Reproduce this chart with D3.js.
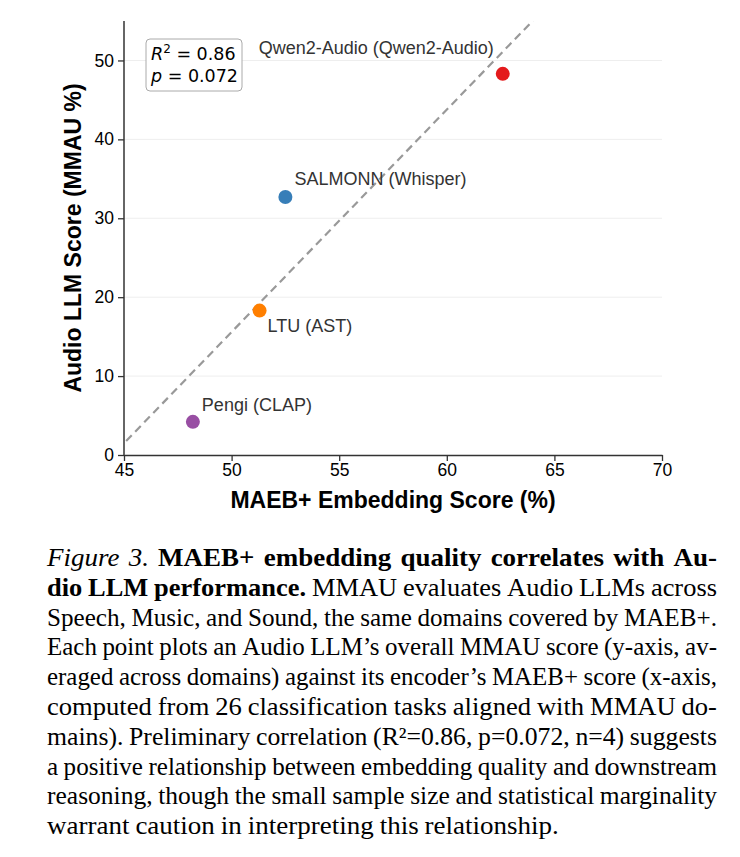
<!DOCTYPE html>
<html>
<head>
<meta charset="utf-8">
<script src="https://cdn.jsdelivr.net/npm/d3@7"></script>
<style>
	body { margin: 0; background: #fff; }
</style>
</head>
<body>
<div id="chart"></div>
<script>
// data
const MODELS = ['Qwen2-Audio (Qwen2-Audio)', 'SALMONN (Whisper)', 'LTU (AST)', 'Pengi (CLAP)'];
const MAEB_SCORES = [62.6, 52.5, 51.3, 48.2];
const MMAU_SCORES = [48.3, 32.7, 18.3, 4.2];
const X_TICKS = [45, 50, 55, 60, 65, 70];
const Y_TICKS = [0, 10, 20, 30, 40, 50];
const R2_TEXT = '0.86';
const P_TEXT = '0.072';

const POINT_COLORS = ['#e41a1c', '#377eb8', '#ff7f00', '#984ea3'];
// label offsets from the dot (dx, dy, anchor)
const LABEL_OFFSETS = [[-9, -20, 'end'], [9, -12, 'start'], [8, 21, 'start'], [9, -11, 'start']];

const CAPTION = [
	[['i', 'Figure 3.'], ['b', 'MAEB+ embedding quality correlates with Au-']],
	[['b', 'dio LLM performance.'], ['n', 'MMAU evaluates Audio LLMs across']],
	[['n', 'Speech, Music, and Sound, the same domains covered by MAEB+.']],
	[['n', 'Each point plots an Audio LLM\u2019s overall MMAU score (y-axis, av-']],
	[['n', 'eraged across domains) against its encoder\u2019s MAEB+ score (x-axis,']],
	[['n', 'computed from 26 classification tasks aligned with MMAU do-']],
	[['n', 'mains). Preliminary correlation (R\u00b2=0.86, p=0.072, n=4) suggests']],
	[['n', 'a positive relationship between embedding quality and downstream']],
	[['n', 'reasoning, though the small sample size and statistical marginality']],
	[['n', 'warrant caution in interpreting this relationship.']]
];

const WIDTH = 740, HEIGHT = 857;
const PLOT = { left: 124, right: 662, top: 21, bottom: 455 };
const SANS = '"Liberation Sans", Arial, Helvetica, sans-serif';

const svg = d3.select('#chart').append('svg')
	.attr('width', WIDTH)
	.attr('height', HEIGHT)
	.style('background', '#fff');

const x = d3.scaleLinear().domain([45, 70]).range([PLOT.left, PLOT.right]);
const y = d3.scaleLinear().domain([0, 55]).range([PLOT.bottom, PLOT.top]);

svg.append('clipPath').attr('id', 'plot-clip')
	.append('rect')
		.attr('x', PLOT.left).attr('y', PLOT.top)
		.attr('width', PLOT.right - PLOT.left).attr('height', PLOT.bottom - PLOT.top);

// grid
svg.append('g')
	.selectAll('line')
	.data(Y_TICKS.filter(d => d > 0))
	.enter().append('line')
		.attr('x1', PLOT.left).attr('x2', PLOT.right)
		.attr('y1', d => y(d)).attr('y2', d => y(d))
		.attr('stroke', '#eeeeee')
		.attr('stroke-width', 1);

// regression fit
const mx = d3.mean(MAEB_SCORES), my = d3.mean(MMAU_SCORES);
const sxy = d3.sum(MAEB_SCORES, (v, i) => (v - mx) * (MMAU_SCORES[i] - my));
const sxx = d3.sum(MAEB_SCORES, v => (v - mx) * (v - mx));
const slope = sxy / sxx;
const icpt = my - slope * mx;

svg.append('line')
	.attr('clip-path', 'url(#plot-clip)')
	.attr('x1', x(45.1)).attr('y1', y(icpt + slope * 45.1))
	.attr('x2', x(70)).attr('y2', y(icpt + slope * 70))
	.attr('stroke', '#999')
	.attr('stroke-width', 2.2)
	.attr('stroke-dasharray', '8,5');

// axes
const xAxis = svg.append('g')
	.attr('transform', `translate(0, ${PLOT.bottom})`)
	.call(d3.axisBottom(x).tickValues(X_TICKS).tickSize(6).tickPadding(3).tickSizeOuter(0));
const yAxis = svg.append('g')
	.attr('transform', `translate(${PLOT.left}, 0)`)
	.call(d3.axisLeft(y).tickValues(Y_TICKS).tickSize(6).tickPadding(4).tickSizeOuter(0));

[xAxis, yAxis].forEach(g => {
	g.select('.domain').attr('stroke', '#333').attr('stroke-width', 1.5);
	g.selectAll('.tick line').attr('stroke', '#333').attr('stroke-width', 1.3);
	g.selectAll('.tick text')
		.attr('fill', '#000')
		.style('font-family', SANS)
		.style('font-size', '17.5px');
});
yAxis.select('.domain').attr('d', `M0,${PLOT.top}V${PLOT.bottom}`);

// points
svg.append('g')
	.selectAll('circle')
	.data(MODELS)
	.enter().append('circle')
		.attr('cx', (d, i) => x(MAEB_SCORES[i]))
		.attr('cy', (d, i) => y(MMAU_SCORES[i]))
		.attr('r', 7)
		.attr('fill', (d, i) => POINT_COLORS[i]);

svg.append('g')
	.selectAll('text')
	.data(MODELS)
	.enter().append('text')
		.attr('x', (d, i) => x(MAEB_SCORES[i]) + LABEL_OFFSETS[i][0])
		.attr('y', (d, i) => y(MMAU_SCORES[i]) + LABEL_OFFSETS[i][1])
		.attr('text-anchor', (d, i) => LABEL_OFFSETS[i][2])
		.attr('fill', '#333')
		.style('font-family', SANS)
		.style('font-size', '18px')
		.text(d => d);

// axis titles
svg.append('text')
	.attr('x', (PLOT.left + PLOT.right) / 2)
	.attr('y', 508)
	.attr('text-anchor', 'middle')
	.style('font-family', SANS)
	.style('font-size', '23px')
	.style('font-weight', 'bold')
	.text('MAEB+ Embedding Score (%)');

svg.append('text')
	.attr('transform', `translate(81, ${(PLOT.top + PLOT.bottom) / 2}) rotate(-90)`)
	.attr('text-anchor', 'middle')
	.style('font-family', SANS)
	.style('font-size', '23px')
	.style('font-weight', 'bold')
	.text('Audio LLM Score (MMAU %)');

// stats box
const box = svg.append('g').attr('transform', 'translate(146, 39)');
box.append('rect')
	.attr('width', 96).attr('height', 52)
	.attr('rx', 4)
	.attr('fill', '#fff')
	.attr('stroke', '#aaa')
	.attr('stroke-width', 1);
const MATH = '"DejaVu Sans", sans-serif';
const t1 = box.append('text').attr('x', 5).attr('y', 21)
	.style('font-family', MATH).style('font-size', '17.5px');
t1.append('tspan').style('font-style', 'italic').text('R');
t1.append('tspan').attr('dy', -7).style('font-size', '12px').text('2');
t1.append('tspan').attr('dy', 7).text(' = ' + R2_TEXT);
const t2 = box.append('text').attr('x', 5).attr('y', 43)
	.style('font-family', MATH).style('font-size', '17.5px');
t2.append('tspan').style('font-style', 'italic').text('p');
t2.append('tspan').text(' = ' + P_TEXT);

// caption, justified line by line; each line is squeezed a bit in x if it would not fit
const CAP_LEFT = 47, CAP_RIGHT = 717, CAP_TOP = 566, CAP_STEP = 29.8;
const CAP_FONT = 25, CAP_SX = 1.08, CAP_MIN_GAP = 0.22 * CAP_FONT;
const capStyles = {
	i: { style: 'italic', weight: 'normal' },
	b: { style: 'normal', weight: 'bold' },
	n: { style: 'normal', weight: 'normal' }
};
const cap = svg.append('g')
	.style('font-family', '"Liberation Serif", "Times New Roman", serif')
	.style('font-size', CAP_FONT + 'px')
	.attr('fill', '#000');
const capWidth = CAP_RIGHT - CAP_LEFT;

CAPTION.forEach((runs, li) => {
	const words = [];
	runs.forEach(([k, txt]) => txt.split(' ').forEach(w => words.push({ k, w })));
	const line = cap.append('text');
	const spans = words.map(o => line.append('tspan')
		.style('font-style', capStyles[o.k].style)
		.style('font-weight', capStyles[o.k].weight)
		.text(o.w));
	const widths = spans.map(s => s.node().getComputedTextLength());
	const total = d3.sum(widths);
	const isLast = li === CAPTION.length - 1;
	const natural = total + CAP_MIN_GAP * (words.length - 1);
	const sx = isLast ? CAP_SX : Math.min(CAP_SX, capWidth / natural);
	const gap = isLast ? CAP_MIN_GAP : (capWidth / sx - total) / (words.length - 1);
	line.attr('transform', `translate(${CAP_LEFT}, ${CAP_TOP + li * CAP_STEP}) scale(${sx}, 1)`);
	let cx = 0;
	spans.forEach((s, i) => {
		s.attr('x', cx);
		cx += widths[i] + gap;
	});
});
</script>
</body>
</html>
